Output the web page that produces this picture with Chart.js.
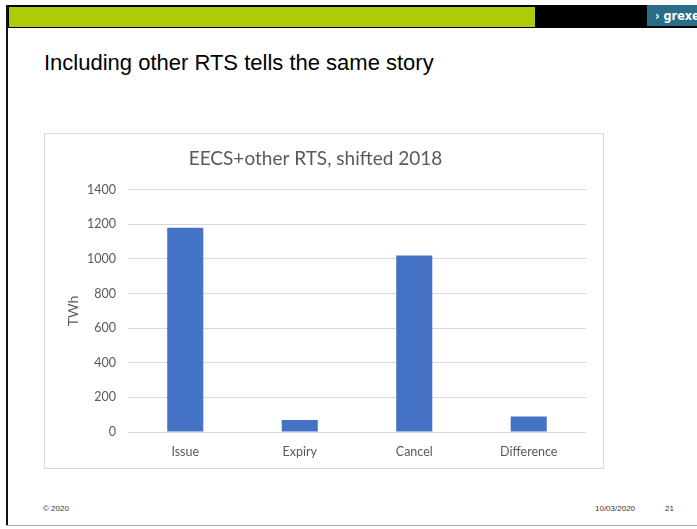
<!DOCTYPE html>
<html>
<head>
<meta charset="utf-8">
<title>Including other RTS tells the same story</title>
<script src="https://cdn.jsdelivr.net/npm/chart.js"></script>
<style>
  html, body { margin: 0; padding: 0; background: #fff; }
  #slide { position: relative; width: 697px; height: 529px; overflow: hidden; font-family: "Liberation Sans", Arial, sans-serif; }
  #topbar { position: absolute; left: 6px; top: 5px; width: 691px; height: 23px; background: #000; }
  #green { position: absolute; left: 9px; top: 7px; width: 526px; height: 20px; background: #afcb05; }
  #logo { position: absolute; left: 647px; top: 5px; width: 50px; height: 21px; background: #2a6d86; color: #fff;
          font: bold 12.5px "DejaVu Sans Condensed", "DejaVu Sans", sans-serif; line-height: 21px; white-space: nowrap; overflow: hidden; padding-left: 8px; box-sizing: border-box; }
  #leftline { position: absolute; left: 6px; top: 5px; width: 2px; height: 521px; background: #111; }
  #bottomline { position: absolute; left: 6px; top: 525px; width: 691px; height: 1px; background: #aaa; }
  #heading { position: absolute; left: 44px; top: 51px; font-size: 22px; line-height: 24px; color: #000; white-space: nowrap; }
  .foot { position: absolute; top: 504px; font-size: 8px; color: #333; }
  #chartbox { position: absolute; left: 44px; top: 133px; width: 558px; height: 334px; border: 1px solid #d9d9d9; }
</style>
</head>
<body>
<div id="slide">
  <div id="topbar"></div>
  <div id="green"></div>
  <div id="logo">› grexel</div>
  <div id="leftline"></div>
  <div id="bottomline"></div>
  <div id="heading">Including other RTS tells the same story</div>
  <div id="chartbox"><canvas id="rtsChart" width="558" height="334"></canvas></div>
  <div class="foot" style="left:43px">© 2020</div>
  <div class="foot" style="left:595px">10/03/2020</div>
  <div class="foot" style="left:665px">21</div>
</div>

<script>
// certificate volumes in TWh
const categories = ['Issue', 'Expiry', 'Cancel', 'Difference'];
const volumes = [1180, 70, 1020, 90];
const yTicks = [0, 200, 400, 600, 800, 1000, 1200, 1400];

const grey = '#595959';
const ctx = document.getElementById('rtsChart').getContext('2d');

new Chart(ctx, {
    type: 'bar',
    data: {
        labels: categories,
        datasets: [{
            label: 'TWh',
            data: volumes,
            backgroundColor: '#4472c4',
            borderWidth: 0,
            barPercentage: 0.63,
            categoryPercentage: 0.5
        }]
    },
    options: {
        responsive: false,
        animation: false,
        layout: { padding: { left: 0, right: 17, top: 0, bottom: 0 } },
        plugins: {
            legend: { display: false },
            tooltip: { enabled: false },
            title: {
                display: true,
                text: 'EECS+other RTS, shifted 2018',
                color: grey,
                font: { family: 'Lato', size: 19, weight: 'normal' },
                padding: { top: 13, bottom: 20 }
            }
        },
        scales: {
            x: {
                grid: { display: false },
                border: { display: false },
                ticks: { color: grey, font: { family: 'Lato', size: 12.5 }, padding: 4 },
                afterFit: (scale) => { scale.height = 36; }
            },
            y: {
                min: 0,
                max: 1400,
                afterBuildTicks: (scale) => { scale.ticks = yTicks.map(v => ({ value: v })); },
                grid: { color: '#d9d9d9', drawTicks: false },
                border: { display: false },
                ticks: { color: grey, font: { family: 'Lato', size: 12.5 }, padding: 12, callback: (v) => String(v) },
                title: {
                    display: true,
                    text: 'TWh',
                    color: grey,
                    font: { family: 'Lato', size: 14 },
                    padding: { top: 20 }
                },
                afterFit: (scale) => { scale.width = 83; }
            }
        }
    }
});
</script>
</body>
</html>
